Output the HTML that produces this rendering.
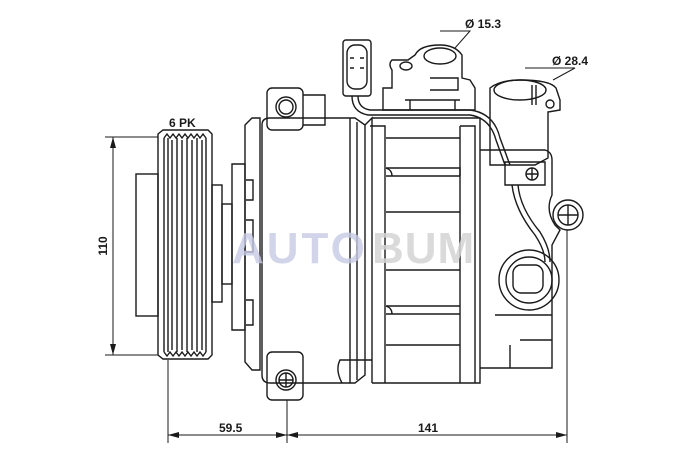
<!DOCTYPE html>
<html><head><style>html,body{margin:0;padding:0;background:#fff}svg{display:block}</style></head><body>
<svg width="700" height="460" viewBox="0 0 700 460" xmlns="http://www.w3.org/2000/svg" font-family="Liberation Sans, sans-serif">
<rect width="700" height="460" fill="#fff"/>
<g fill="none" stroke="#1a1a1a" stroke-width="1.4">
<rect x="136" y="174" width="22" height="142"/>
<path d="M158 134 L163 130 L208 130 L212 134 L212 355 L208 359 L163 359 L158 355 Z"/>
<path d="M164 138 L164 352 M168 138 L168 352 M172 140 L172 350 M177 138 L177 352 M182 140 L182 350 M187 138 L187 352 M192 140 L192 350 M197 138 L197 352 M202 140 L202 350 M206 138 L206 352"/>
<path d="M164 138 L167 134 L170 138 L173 134 L176 138 L179 134 L182 138 L185 134 L188 138 L191 134 L194 138 L197 134 L200 138 L203 134 L206 138"/>
<path d="M164 352 L167 356 L170 352 L173 356 L176 352 L179 356 L182 352 L185 356 L188 352 L191 356 L194 352 L197 356 L200 352 L203 356 L206 352"/>
<rect x="212" y="185" width="10" height="117"/>
<rect x="222" y="204" width="10" height="80"/>
<path d="M232 164 L245 164 L245 330 L232 330 Z"/>
<path d="M245 125 L252 118 L260 118 L260 370 L252 370 L245 362 Z"/>
<path d="M246 180 L253 180 L253 200 L246 200 M246 220 L253 220 L253 252 L246 252 M246 300 L253 300 L253 325 L246 325"/>
<path d="M262 125 Q262 118 270 118 L355 118 L365 125 L365 375 L355 383 L270 383 Q262 383 262 375 Z"/>
<path d="M350 118 L350 383 M357 122 L357 380"/>
<rect x="267" y="88" width="36" height="42" rx="5"/>
<circle cx="286" cy="107" r="10"/><circle cx="286" cy="107" r="7"/>
<rect x="267" y="352" width="36" height="48" rx="5"/>
<circle cx="286" cy="380" r="10"/><circle cx="286" cy="380" r="7"/>
<path d="M279 380 L293 380 M286 373 L286 387"/>
<path d="M303 95 L325 95 L325 125 L303 125"/>
<rect x="343" y="40" width="28" height="56" rx="3"/>
<rect x="347" y="45" width="20" height="44" rx="8"/>
<path d="M350 58 L354 58 M350 68 L354 68 M360 58 L364 58 M360 68 L364 68"/>
<path d="M352 96 Q352 112 368 115 L470 115 Q490 118 496 140 L505 165 M358 96 Q358 108 370 110 L470 110 Q494 113 500 138 L510 165"/>
<path d="M365 125 L372 118 L372 383 M372 118 L480 118 L480 383 L372 383"/>
<path d="M370 126 L385 126 L385 383 M460 126 L475 126 L475 383 M460 126 L460 383"/>
<path d="M386 138 L460 138 M386 168 L460 168 L460 176 M386 176 L460 176 M386 212 L460 212 M386 270 L460 270 M386 306 L460 306 M386 314 L460 314 M386 345 L460 345"/>
<path d="M386 168 Q392 170 392 176 M386 306 Q392 308 392 314"/>
<path d="M372 360 L340 360 Q335 370 342 383"/>
<path d="M383 88 L383 110 L475 110 L475 88 L470 80 L462 78 L462 55 Q455 45 440 45 Q420 45 415 55 L408 60 L392 60 Q388 64 392 70 L392 88 Z"/>
<ellipse cx="440" cy="56" rx="16" ry="8"/>
<ellipse cx="406" cy="66" rx="6" ry="4"/>
<path d="M405 100 L460 100 M410 100 L410 110 M455 100 L455 110 M430 78 L458 78 L458 90 L430 90"/>
<path d="M490 88 Q500 80 520 80 Q550 80 556 88 L560 100 L560 110 L548 112 L548 158 L535 165 L490 165 Z"/>
<ellipse cx="520" cy="90" rx="26" ry="10"/>
<path d="M532 85 L532 105 M536 85 L536 105"/>
<circle cx="550" cy="104" r="4"/>
<path d="M480 150 L545 150 Q552 152 552 160 L552 195 Q545 210 555 225 L560 230 L552 245 L552 368 L480 368"/>
<path d="M505 162 L545 162 L545 185 L505 185 Z"/>
<circle cx="532" cy="174" r="6"/><path d="M526 174 L538 174 M532 168 L532 180"/>
<circle cx="568" cy="215" r="15"/><circle cx="568" cy="215" r="10"/>
<path d="M558 215 L578 215 M568 205 L568 225"/>
<circle cx="529" cy="280" r="30"/><circle cx="529" cy="280" r="23"/>
<rect x="513" y="265" width="30" height="28" rx="8"/>
<path d="M512 185 Q515 210 535 235 Q545 250 545 262 M518 185 Q520 208 540 232 Q550 248 550 262"/>
<path d="M495 315 L552 315 M520 340 L552 340 M510 368 L510 345"/>
</g>
<text x="232" y="263" font-size="44" font-weight="bold" fill="#c8cbe6" opacity="0.8" letter-spacing="3">AUTO</text>
<text x="372" y="263" font-size="44" font-weight="bold" fill="#d4d4d4" opacity="0.85" letter-spacing="1">BUM</text>
<g stroke="#1a1a1a" stroke-width="1" fill="none">
<path d="M113 137 L113 355 M105 137 L158 137 M105 355 L158 355"/>
<path d="M168 360 L168 443 M287 400 L287 443 M567 230 L567 443"/>
<path d="M168 435 L567 435"/>
<path d="M440 31 L470 31 L455 48 M525 68 L575 68 L553 80"/>
</g>
<g fill="#1a1a1a">
<path d="M113 137 L110 148 L116 148 Z M113 355 L110 344 L116 344 Z"/>
<path d="M168 435 L179 432 L179 438 Z M287 435 L276 432 L276 438 Z M287 435 L298 432 L298 438 Z M567 435 L556 432 L556 438 Z"/>
</g>
<g font-size="12" font-weight="bold" fill="#1a1a1a">
<text x="169" y="127">6 PK</text>
<text x="465" y="28">Ø 15.3</text>
<text x="552" y="65">Ø 28.4</text>
<text x="219" y="432">59.5</text>
<text x="418" y="432">141</text>
<text transform="translate(107 246) rotate(-90)" text-anchor="middle">110</text>
</g>
</svg>
</body></html>
